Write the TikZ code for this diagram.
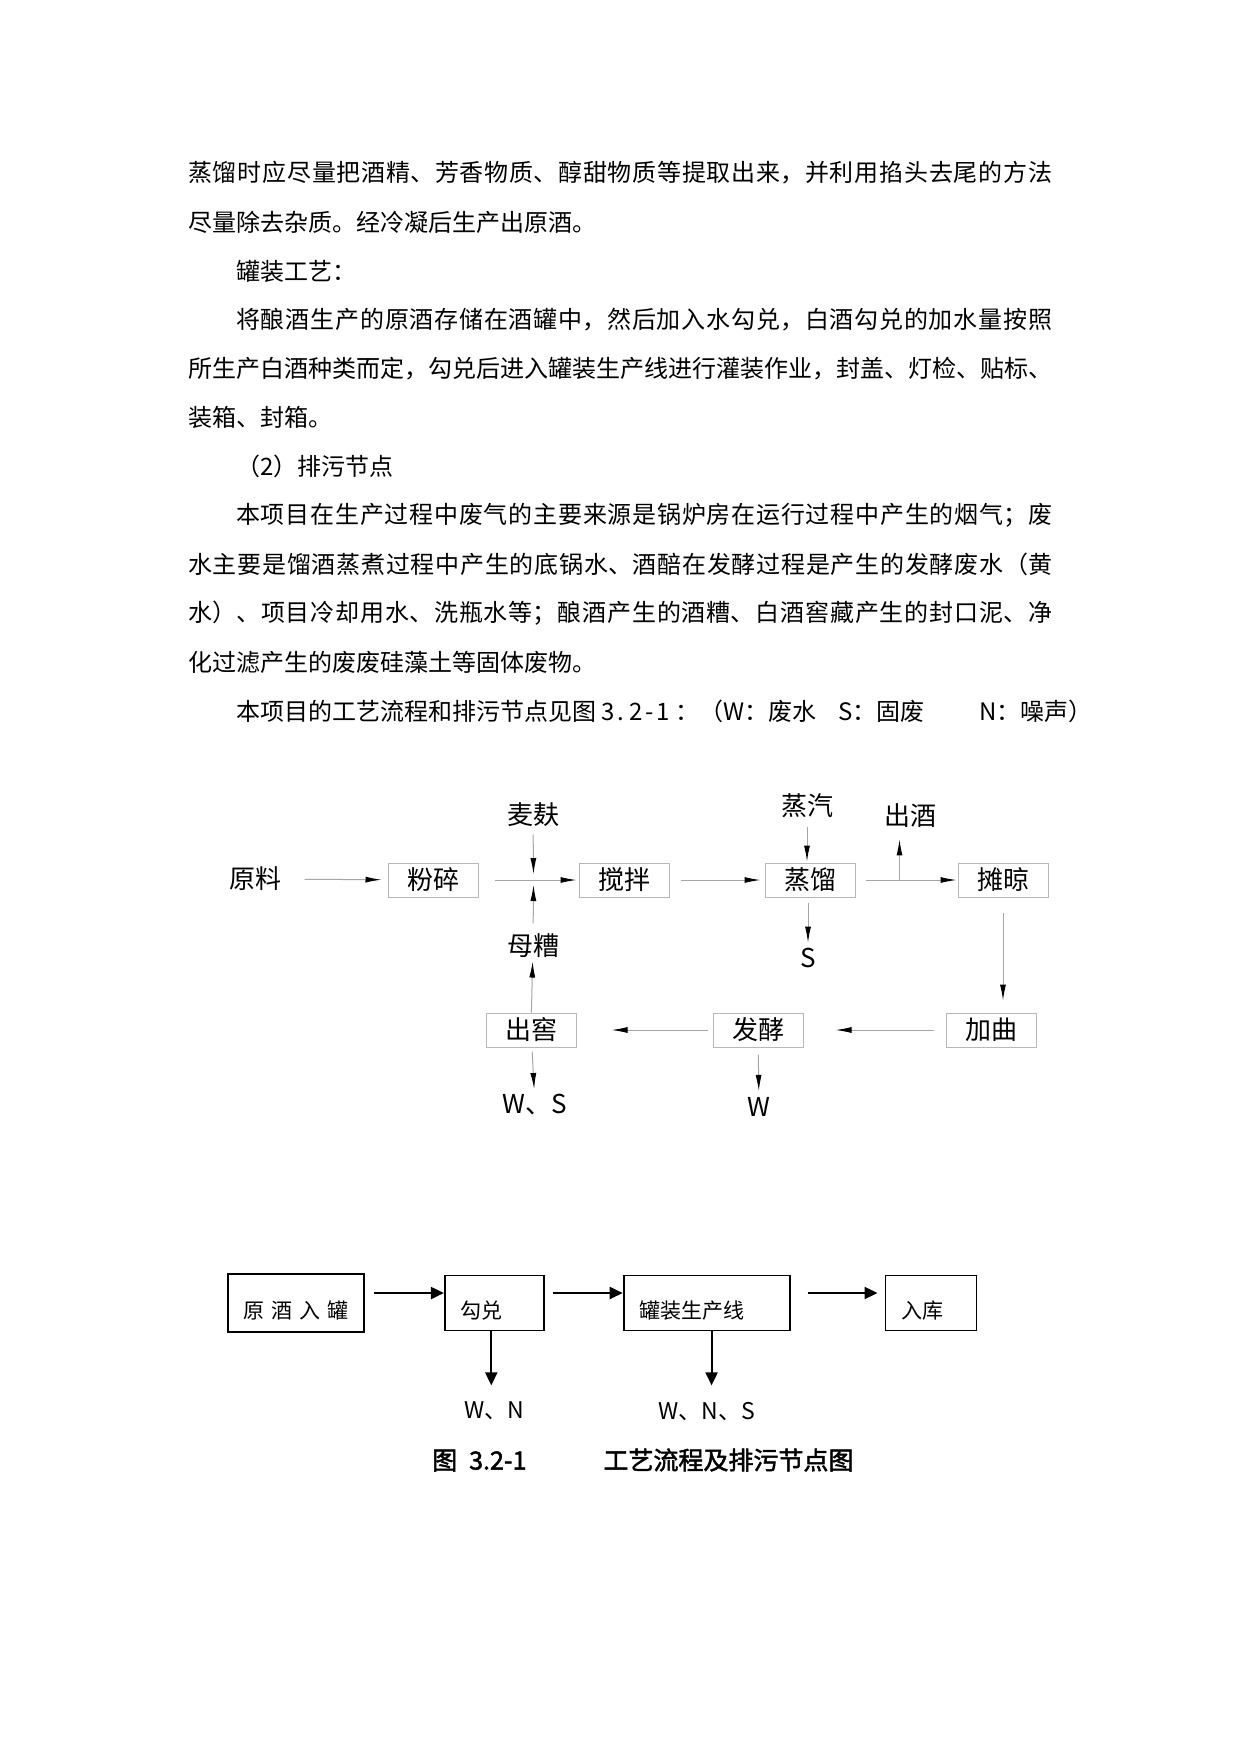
\documentclass[tikz,border=0pt]{standalone}
\usepackage{fontspec}
\setmainfont{Noto Sans CJK SC}[AutoFakeBold=2]
\usetikzlibrary{arrows.meta,positioning}
\XeTeXlinebreaklocale "zh"
\XeTeXlinebreakskip=0pt plus 3pt minus 1pt
\definecolor{boxgray}{HTML}{B8B8B8}
\definecolor{linegray}{HTML}{A6A6A6}
\newcommand{\bodyfont}{\fontsize{24pt}{28pt}\selectfont}
\newcommand{\flowfont}{\fontsize{26pt}{30pt}\selectfont}
\newcommand{\packfont}{\fontsize{21pt}{25pt}\selectfont}
\newcommand{\wastefont}{\fontsize{23pt}{27pt}\selectfont}
\newcommand{\capfont}{\fontsize{25pt}{29pt}\selectfont}
\newcommand{\fillline}[2]{\parbox{#1}{\parfillskip=0pt #2}}

\begin{document}
\begin{tikzpicture}[x=1pt,y=-1pt,>=Latex,node distance=100pt,
    bodytxt/.style={anchor=west,inner sep=0pt,font=\bodyfont},
    gbox/.style={draw=boxgray,line width=1pt,minimum width=90pt,minimum height=34pt,font=\flowfont},
    glbl/.style={font=\flowfont},
    flow/.style={draw=linegray,line width=1pt,-{Latex[length=16pt,width=6pt,color=black]}},
    pbox/.style={draw=black,line width=1.8pt,inner xsep=16pt,align=left,text height=34pt,text depth=4pt,minimum height=55pt,font=\packfont},
    plbl/.style={font=\wastefont},
    parrow/.style={draw=black,line width=2pt,-{Triangle[length=13pt,width=12pt]}}]
  \path[use as bounding box,fill=white] (0,0) rectangle (1241,1754);

  % text above the chart
  \node[bodytxt] (t1) at (188,173) {\fillline{864pt}{蒸馏时应尽量把酒精、芳香物质、醇甜物质等提取出来，并利用掐头去尾的方法}};
  \node[bodytxt] (t2) at (188,222) {尽量除去杂质。经冷凝后生产出原酒。};
  \node[bodytxt] (t3) at (236,271) {罐装工艺：};
  \node[bodytxt] (t4) at (236,320) {\fillline{816pt}{将酿酒生产的原酒存储在酒罐中，然后加入水勾兑，白酒勾兑的加水量按照}};
  \node[bodytxt] (t5) at (188,369) {\fillline{864pt}{所生产白酒种类而定，勾兑后进入罐装生产线进行灌装作业，封盖、灯检、贴标、}};
  \node[bodytxt] (t6) at (188,417) {装箱、封箱。};
  \node[bodytxt] (t7) at (236,466) {（2）排污节点};
  \node[bodytxt] (t8) at (236,515) {\fillline{816pt}{本项目在生产过程中废气的主要来源是锅炉房在运行过程中产生的烟气；废}};
  \node[bodytxt] (t9) at (188,564) {\fillline{864pt}{水主要是馏酒蒸煮过程中产生的底锅水、酒醅在发酵过程是产生的发酵废水（黄}};
  \node[bodytxt] (t10) at (188,613) {\fillline{864pt}{水）、项目冷却用水、洗瓶水等；酿酒产生的酒糟、白酒窖藏产生的封口泥、净}};
  \node[bodytxt] (t11) at (188,662) {化过滤产生的废废硅藻土等固体废物。};
  \node[bodytxt] (t12) at (236,711) {本项目的工艺流程和排污节点见图\hspace{5pt}3\hspace{3pt}.\hspace{5pt}2\hspace{3pt}-\hspace{3pt}1\hspace{5pt}：（W：废水\hspace{22pt}S：固废\hspace{55pt}N：噪声）};

  % brewing chart
  \node[gbox] (fensui) at (433,880) {粉碎};
  \node[gbox,right=100pt of fensui] (jiaoban) {搅拌};
  \node[gbox,right=95pt of jiaoban] (zhengliu) {蒸馏};
  \node[gbox,right=102pt of zhengliu] (tanliang) {摊晾};
  \node[gbox] (jiaqu) at (991,1030) {加曲};
  \node[gbox,left=142pt of jiaqu] (fajiao) {发酵};
  \node[gbox,left=136pt of fajiao] (chujiao) {出窖};
  \node[glbl] (yuanliao) at (255,879) {原料};
  \node[glbl] (maifu) at (533,815) {麦麸};
  \node[glbl] (muzao) at (533,946) {母糟};
  \node[glbl] (zhengqi) at (807,806) {蒸汽};
  \node[glbl] (chujiu) at (910,816) {出酒};
  \node[glbl] (ss) at (808,958) {S};
  \node[glbl] (ws) at (535,1105) {W、S};
  \node[glbl] (ww) at (759,1107) {W};
  \coordinate (jmid) at ([xshift=55pt]fensui.east);
  \coordinate (jtop) at ([yshift=6pt]jmid);
  \coordinate (jbot) at ([yshift=-5pt]jmid);
  \coordinate (jzl) at ([xshift=44pt]zhengliu.east);
  \draw[flow,shorten <=20pt,shorten >=6pt] (yuanliao) -- (fensui);
  \draw[flow,shorten <=16pt,shorten >=2pt] (fensui) -- (jiaoban);
  \draw[flow,shorten <=4pt] (maifu) -- (jtop);
  \draw[flow,shorten <=7pt] (muzao) -- (jbot);
  \draw[flow] (chujiao) -- (muzao);
  \draw[flow,shorten <=11pt,shorten >=4pt] (jiaoban) -- (zhengliu);
  \draw[flow,shorten <=5pt,shorten >=1pt] (zhengqi) -- (zhengqi |- zhengliu.north);
  \draw[flow,shorten <=10pt,shorten >=1pt] (zhengliu) -- (tanliang);
  \draw[flow,shorten >=8pt] (jzl) -- (jzl |- chujiu.south);
  \draw[flow,shorten <=5pt,shorten >=2pt] (ss |- zhengliu.south) -- (ss);
  \draw[flow,shorten <=15pt,shorten >=12pt] (tanliang.south) -- (tanliang.south |- jiaqu.north);
  \draw[flow,shorten <=12pt,shorten >=32pt] (jiaqu) -- (fajiao);
  \draw[flow,shorten <=5pt,shorten >=35pt] (fajiao) -- (chujiao);
  \draw[flow,shorten <=4pt,shorten >=2pt] (chujiao) -- (ws);
  \draw[flow,shorten <=7pt,shorten >=3pt] (fajiao) -- (ww);

  % canning chart
  \node[pbox,text width=105pt,inner xsep=15.5pt,minimum height=58pt] (yjrg) at (296,1303) {\mbox{原\hspace{7pt}酒\hspace{7pt}入\hspace{7pt}罐}};
  \node[pbox,text width=67pt,right=79pt of yjrg] (goudui) {勾兑};
  \node[pbox,text width=134pt,right=78pt of goudui] (guanzhuang) {罐装生产线};
  \node[pbox,text width=59pt,right=94pt of guanzhuang] (ruku) {入库};
  \node[plbl,below=67pt of goudui] (wn) {W、N};
  \node[plbl,below=67pt of guanzhuang] (wns) {W、N、S};
  \foreach \u/\vv/\a/\b in {yjrg/goudui/9/0,goudui/guanzhuang/8/0,guanzhuang/ruku/17/7}
    {\draw[parrow,shorten <=\a pt,shorten >=\b pt] ([yshift=10pt]\u.east) -- ([yshift=10pt]\vv.west);}
  \draw[parrow,shorten >=13pt] ([xshift=-3pt]goudui.south) -- ([xshift=-3pt]wn.north);
  \draw[parrow,shorten >=13pt] ([xshift=5pt]guanzhuang.south) -- ([xshift=5pt]wns.north);

  \node[anchor=west,inner sep=0pt,font=\capfont\bfseries] (cap) at (432,1460) {图\hspace{12pt}3.2-1\hspace{77pt}工艺流程及排污节点图};
\end{tikzpicture}
\end{document}
